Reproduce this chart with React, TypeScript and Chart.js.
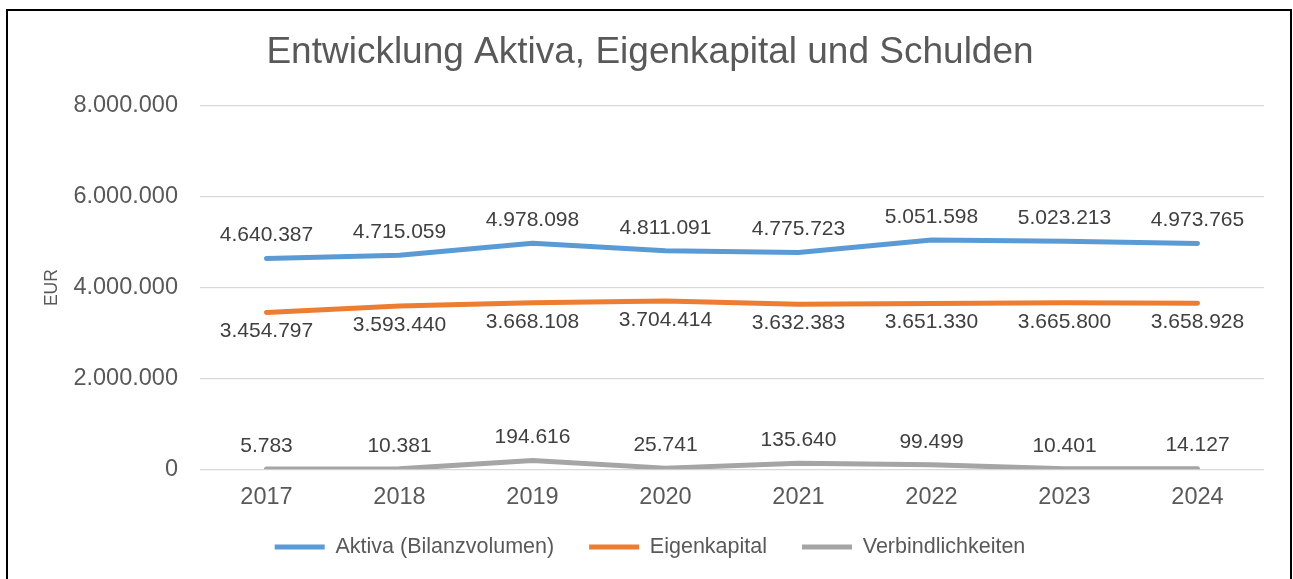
import React, { useEffect, useRef } from 'react';
import { Chart, registerables } from 'chart.js';

Chart.register(...registerables);

const TITLE = 'Entwicklung Aktiva, Eigenkapital und Schulden';
const Y_TITLE = 'EUR';
const years = ['2017', '2018', '2019', '2020', '2021', '2022', '2023', '2024'];
const aktiva = [4640387, 4715059, 4978098, 4811091, 4775723, 5051598, 5023213, 4973765];
const eigenkapital = [3454797, 3593440, 3668108, 3704414, 3632383, 3651330, 3665800, 3658928];
const verbindlichkeiten = [5783, 10381, 194616, 25741, 135640, 99499, 10401, 14127];
const seriesNames = ['Aktiva (Bilanzvolumen)', 'Eigenkapital', 'Verbindlichkeiten'];
const seriesColors = ['#5B9BD5', '#ED7D31', '#A5A5A5'];
const labelPlacement = ['above', 'below', 'above'];
const yMin = 0;
const yMax = 8000000;
const yStep = 2000000;

const FONT = "'Liberation Sans', Arial, sans-serif";
const TEXT = '#595959';
const LEGEND_FONT = 21.5;
const LEGEND_PAD = 35;
const LEGEND_CENTER_Y = 547;

const fmt = (n: number) => String(Math.round(n)).replace(/\B(?=(\d{3})+(?!\d))/g, '.');

const dataLabelPlugin = {
  id: 'dataLabels',
  afterDatasetsDraw(chart: any) {
    const ctx = chart.ctx;
    ctx.save();
    ctx.font = `21px ${FONT}`;
    ctx.fillStyle = '#404040';
    ctx.textAlign = 'center';
    ctx.textBaseline = 'middle';
    chart.data.datasets.forEach((ds: any, i: number) => {
      const meta = chart.getDatasetMeta(i);
      meta.data.forEach((pt: any, j: number) => {
        const v = ds.data[j];
        const dy = labelPlacement[i] === 'above' ? -23 : 19;
        ctx.fillText(fmt(v), pt.x, pt.y + dy);
      });
    });
    ctx.restore();
  },
};

// nudge the legend row to sit where the reference puts it
const legendShiftPlugin = {
  id: 'legendShift',
  afterLayout(chart: any) {
    const lg = chart.legend;
    if (!lg) return;
    const h = lg.bottom - lg.top;
    lg.top = LEGEND_CENTER_Y - LEGEND_PAD - LEGEND_FONT / 2;
    lg.bottom = lg.top + h;
  },
};

export default function App() {
  const ref = useRef<HTMLCanvasElement | null>(null);

  useEffect(() => {
    if (!ref.current) return;
    const allSeries = [aktiva, eigenkapital, verbindlichkeiten];
    const chart = new Chart(ref.current, {
      type: 'line',
      data: {
        labels: years,
        datasets: allSeries.map((d, i) => ({
          label: seriesNames[i],
          data: d,
          borderColor: seriesColors[i],
          backgroundColor: seriesColors[i],
          borderWidth: 5,
          borderCapStyle: 'round',
          borderJoinStyle: 'round',
          pointRadius: 0,
          pointHoverRadius: 0,
          tension: 0,
          fill: false,
        })),
      },
      options: {
        responsive: false,
        animation: false,
        events: [],
        layout: { padding: { left: 36, right: 29, top: 0, bottom: -13 } },
        plugins: {
          title: {
            display: true,
            text: TITLE,
            color: TEXT,
            font: { family: FONT, size: 37, weight: 'normal', lineHeight: 1.2 },
            padding: { top: 31, bottom: 30.6 },
          },
          legend: {
            display: true,
            position: 'bottom',
            labels: {
              usePointStyle: true,
              pointStyle: 'line',
              pointStyleWidth: 50,
              padding: LEGEND_PAD,
              color: TEXT,
              font: { family: FONT, size: LEGEND_FONT },
            },
          },
          tooltip: { enabled: false },
        },
        scales: {
          x: {
            offset: true,
            grid: { display: false, drawTicks: false },
            border: { display: false },
            ticks: { color: TEXT, padding: 14, font: { family: FONT, size: 23.5, lineHeight: 1.2 } },
          },
          y: {
            min: yMin,
            max: yMax,
            grid: { color: '#D9D9D9', lineWidth: 1.3, drawTicks: false },
            border: { display: false },
            ticks: {
              stepSize: yStep,
              color: TEXT,
              padding: 22,
              font: { family: FONT, size: 23.5 },
              callback: (v: any) => fmt(Number(v)),
            },
            title: {
              display: true,
              text: Y_TITLE,
              color: TEXT,
              font: { family: FONT, size: 17.5, lineHeight: 1.2 },
              padding: { top: 6, bottom: 0 },
            },
            afterFit: (s: any) => {
              s.width = 164;
            },
          },
        },
      },
      plugins: [dataLabelPlugin, legendShiftPlugin],
    } as any);
    return () => chart.destroy();
  }, []);

  return (
    <>
      <div
        style={{
          position: 'fixed',
          left: 6,
          top: 9,
          width: 1286,
          height: 620,
          border: '2px solid #000',
          boxSizing: 'border-box',
          background: '#fff',
        }}
      />
      <canvas
        ref={ref}
        width={1293}
        height={579}
        style={{ position: 'fixed', left: 0, top: 0, display: 'block', width: 1293, height: 579 }}
      />
    </>
  );
}
